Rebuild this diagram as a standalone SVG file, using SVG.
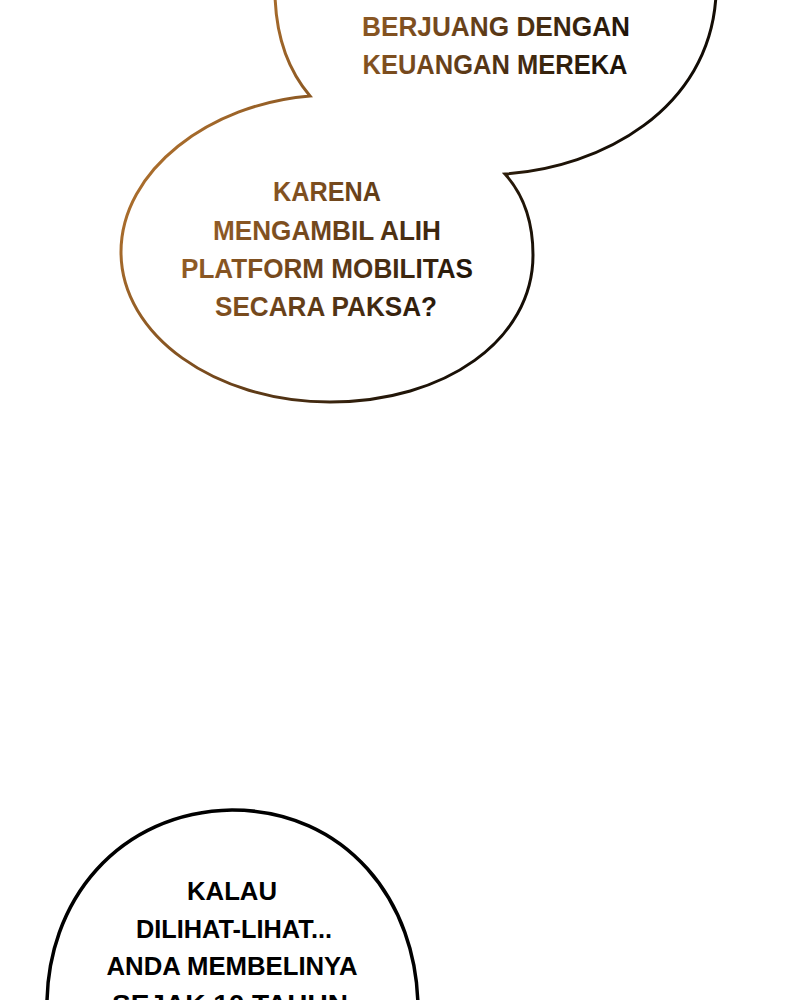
<svg xmlns="http://www.w3.org/2000/svg" width="800" height="1000" viewBox="0 0 800 1000">
<defs>
<linearGradient id="g" gradientUnits="userSpaceOnUse" x1="200" y1="100" x2="560" y2="330">
<stop offset="0" stop-color="#a86c2c"/>
<stop offset="0.35" stop-color="#7a4c1e"/>
<stop offset="0.75" stop-color="#221608"/>
<stop offset="1" stop-color="#0c0804"/>
</linearGradient>
<style>
.b{fill:#fff;stroke:url(#g);stroke-width:3;stroke-linejoin:miter}
.k{fill:#fff;stroke:#000;stroke-width:3.5}
.t{font-family:"Liberation Sans","DejaVu Sans",sans-serif;font-weight:bold;font-size:27px;text-anchor:middle;fill:url(#g)}
.d{font-family:"Liberation Sans","DejaVu Sans",sans-serif;font-weight:bold;font-size:26px;text-anchor:middle;fill:#000}
</style>
</defs>
<rect width="800" height="1000" fill="#fff"/>
<g id="bubble-top-pair">
<path class="b" d="M 275,-5 C 276,35 288,70 310,96 C 210,104 121,170 121,252 C 121,335 215,402 330,402 C 445,402 533,340 533,255 C 533,222 523,194 505,174 C 600,168 710,110 716,-5"/>
</g>
<g id="text-top">
<text class="t" x="496" y="36" textLength="268" lengthAdjust="spacingAndGlyphs">BERJUANG DENGAN</text>
<text class="t" x="495" y="74" textLength="265" lengthAdjust="spacingAndGlyphs">KEUANGAN MEREKA</text>
</g>
<g id="text-middle">
<text class="t" x="327" y="201" textLength="108" lengthAdjust="spacingAndGlyphs">KARENA</text>
<text class="t" x="327" y="240" textLength="228" lengthAdjust="spacingAndGlyphs">MENGAMBIL ALIH</text>
<text class="t" x="327" y="278" textLength="292" lengthAdjust="spacingAndGlyphs">PLATFORM MOBILITAS</text>
<text class="t" x="326" y="316" textLength="222" lengthAdjust="spacingAndGlyphs">SECARA PAKSA?</text>
</g>
<g id="bubble-bottom">
<path class="k" d="M 47,1010 C 45,900 120,812 232,810 C 345,810 418,900 418,1010"/>
<text class="d" x="232" y="900" textLength="90" lengthAdjust="spacingAndGlyphs">KALAU</text>
<text class="d" x="234" y="938" textLength="196" lengthAdjust="spacingAndGlyphs">DILIHAT-LIHAT...</text>
<text class="d" x="232" y="975" textLength="251" lengthAdjust="spacingAndGlyphs">ANDA MEMBELINYA</text>
<text class="d" x="230" y="1013" textLength="236" lengthAdjust="spacingAndGlyphs">SEJAK 10 TAHUN</text>
</g>
</svg>
